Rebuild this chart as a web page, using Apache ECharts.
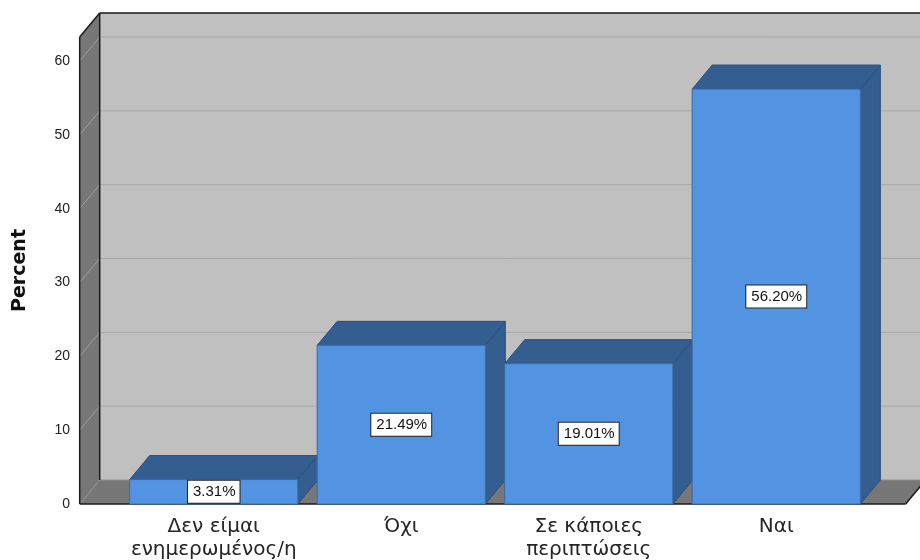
<!DOCTYPE html>
<html>
<head>
<meta charset="utf-8">
<script src="https://cdn.jsdelivr.net/npm/echarts@6/dist/echarts.min.js"></script>
<style>
  html, body { margin: 0; padding: 0; background: #ffffff; }
  #chart { width: 920px; height: 560px; }
</style>
</head>
<body>
<div id="chart"></div>
<script>
// Survey answers and their share of respondents
const categories = ['Δεν είμαι\nενημερωμένος/η', 'Όχι', 'Σε κάποιες\nπεριπτώσεις', 'Ναι'];
const percentValues = [3.31, 21.49, 19.01, 56.20];
const percentLabels = ['3.31%', '21.49%', '19.01%', '56.20%'];
const yTicks = [0, 10, 20, 30, 40, 50, 60];
const yMax = 63.25;

// Oblique projection used for the 3D look (pixels)
const DX = 20;
const DY = -24;
const BAR_FRACTION = 0.897;      // bar width as part of a category band
const PAD_LEFT = 0.715;          // floor overhang before the first band centre, in bands
const PAD_RIGHT = 0.69;          // floor overhang after the last band centre, in bands

const BACK_WALL = '#c0c0c0';
const SIDE_WALL = '#777777';
const BAR_FRONT = '#5294e2';
const BAR_SHADE = '#345d90';
const FONT = '"DejaVu Sans", Verdana, sans-serif';
const FONT_NARROW = '"Liberation Sans", Arial, sans-serif';

function line(x1, y1, x2, y2, color, width) {
  return {
    type: 'line',
    shape: { x1: x1, y1: y1, x2: x2, y2: y2 },
    style: { stroke: color, lineWidth: width }
  };
}

function poly(points, fill, stroke) {
  return {
    type: 'polygon',
    shape: { points: points },
    style: { fill: fill, stroke: stroke || null, lineWidth: stroke ? 1 : 0 }
  };
}

// Back wall, left side wall, floor and gridlines of the 3D frame
function renderFrame(params, api) {
  const band = api.size([1, 0])[0];
  const first = api.coord([0, 0]);
  const last = api.coord([categories.length - 1, 0]);
  const top = api.coord([0, yMax])[1];
  const x0 = first[0] - PAD_LEFT * band;
  const x1 = last[0] + PAD_RIGHT * band;
  const y0 = first[1];
  const bx0 = x0 + DX, bx1 = x1 + DX;
  const by0 = y0 + DY, btop = top + DY;

  const children = [
    poly([[bx0, btop], [bx1 + 40, btop], [bx1 + 40, by0], [bx0, by0]], BACK_WALL),
    poly([[x0, top], [bx0, btop], [bx0, by0], [x0, y0]], SIDE_WALL),
    poly([[x0, y0], [bx0, by0], [bx1, by0], [x1, y0]], SIDE_WALL)
  ];

  yTicks.forEach(function (t) {
    if (t === 0) return;
    const y = api.coord([0, t])[1];
    children.push(line(bx0, y + DY, bx1 + 40, y + DY, '#a8a8a8', 1));
    children.push(line(x0, y, bx0, y + DY, '#9c9c9c', 1));
  });

  // floor seams
  children.push(line(x0, y0, bx0, by0, '#8e8e8e', 1));
  children.push(line(bx0, by0, bx1 + 40, by0, '#8e8e8e', 1));

  // outer edges
  children.push(line(bx0, btop, bx1 + 40, btop, '#1a1a1a', 1.5));
  children.push(line(bx0, btop, bx0, by0, '#1a1a1a', 1.5));
  children.push(line(x0, top, bx0, btop, '#1a1a1a', 1.5));
  children.push(line(x0, top, x0, y0, '#1a1a1a', 1.5));
  children.push(line(x0, y0, x1, y0, '#1a1a1a', 1.5));
  children.push(line(x1, y0, bx1, by0, '#1a1a1a', 1.5));

  return { type: 'group', children: children };
}

// One extruded bar with its value box
function renderBar(params, api) {
  const i = api.value(0);
  const v = api.value(1);
  const base = api.coord([i, 0]);
  const topY = api.coord([i, v])[1];
  const midY = api.coord([i, v / 2])[1];
  const w = api.size([1, 0])[0] * BAR_FRACTION;
  const l = base[0] - w / 2, r = base[0] + w / 2, yb = base[1];

  return {
    type: 'group',
    children: [
      poly([[r, topY], [r + DX, topY + DY], [r + DX, yb + DY], [r, yb]], BAR_SHADE, '#2c5080'),
      poly([[l, topY], [l + DX, topY + DY], [r + DX, topY + DY], [r, topY]], BAR_SHADE, '#2c5080'),
      {
        type: 'rect',
        shape: { x: l, y: topY, width: w, height: yb - topY },
        style: { fill: BAR_FRONT, stroke: '#3b6aa3', lineWidth: 1 }
      },
      {
        type: 'text',
        x: base[0],
        y: midY,
        style: {
          text: percentLabels[params.dataIndex],
          font: '15px ' + FONT_NARROW,
          fill: '#111111',
          align: 'center',
          verticalAlign: 'middle',
          backgroundColor: '#ffffff',
          borderColor: '#222222',
          borderWidth: 1,
          padding: [4, 4, 3, 5]
        }
      }
    ]
  };
}

const chart = echarts.init(document.getElementById('chart'), null, { renderer: 'canvas' });

chart.setOption({
  animation: false,
  backgroundColor: '#ffffff',
  grid: { left: 120, right: 50, top: 37, bottom: 56, containLabel: false, outerBoundsMode: 'none' },
  xAxis: {
    type: 'category',
    data: categories,
    boundaryGap: true,
    axisLine: { show: false },
    axisTick: { show: false },
    splitLine: { show: false },
    axisLabel: {
      interval: 0,
      margin: 11,
      fontSize: 20,
      lineHeight: 23,
      color: '#262626',
      fontFamily: FONT
    }
  },
  yAxis: {
    type: 'value',
    min: 0,
    max: yMax,
    interval: 10,
    name: 'Percent',
    nameLocation: 'middle',
    nameGap: 90,
    nameTextStyle: { fontSize: 19, fontWeight: 'bold', color: '#111111', fontFamily: FONT },
    axisLine: { show: false },
    axisTick: { show: false },
    splitLine: { show: false },
    axisLabel: {
      margin: 50,
      fontSize: 14,
      color: '#222222',
      fontFamily: FONT_NARROW,
      formatter: function (val) {
        return yTicks.indexOf(val) >= 0 ? String(val) : '';
      }
    }
  },
  series: [
    {
      type: 'custom',
      name: 'frame',
      renderItem: renderFrame,
      data: [[0, 0]],
      silent: true,
      clip: false,
      z: 1
    },
    {
      type: 'custom',
      name: 'Percent',
      renderItem: renderBar,
      data: percentValues.map(function (v, i) { return [i, v]; }),
      clip: false,
      z: 2
    }
  ]
});
</script>
</body>
</html>
